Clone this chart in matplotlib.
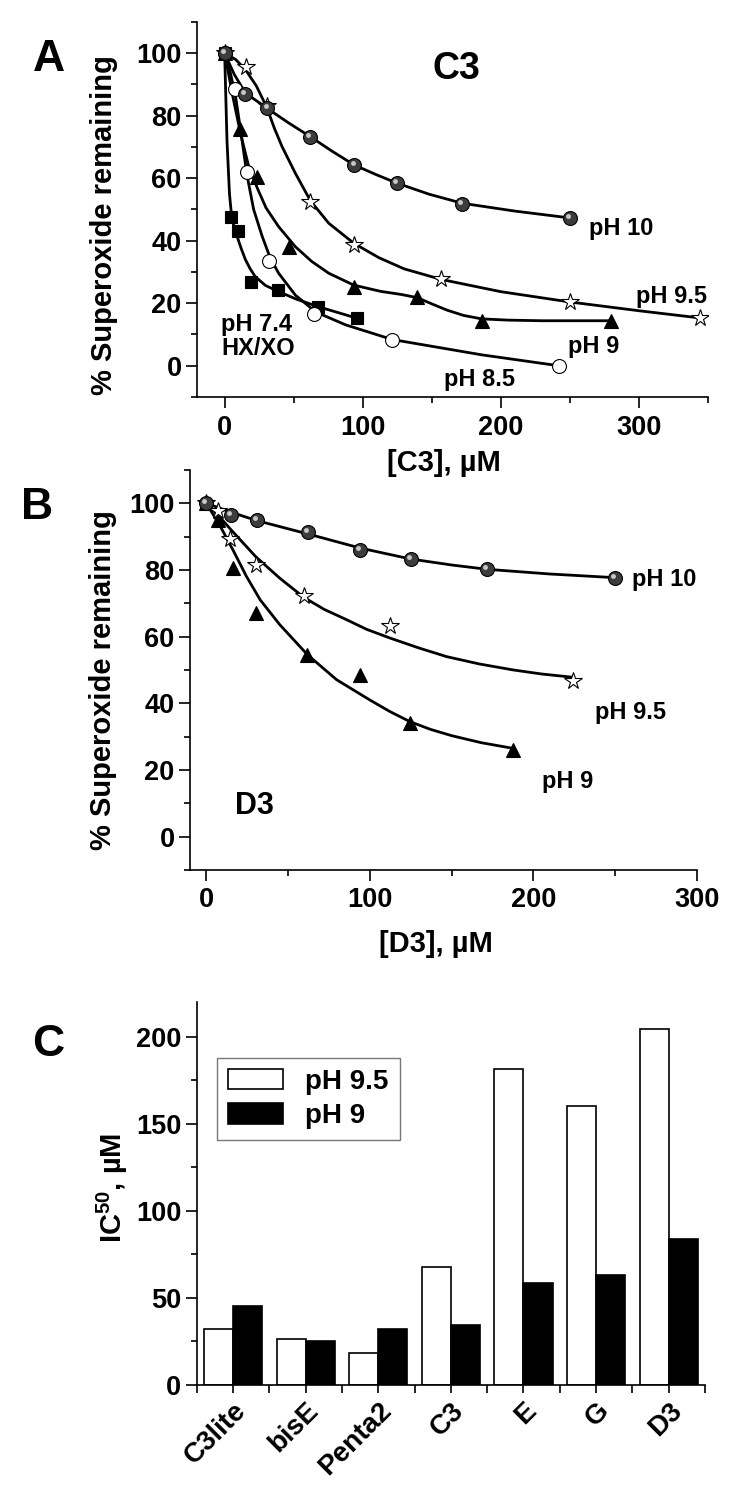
import numpy as np
import matplotlib
matplotlib.use("Agg")
import matplotlib.pyplot as plt
from matplotlib.transforms import offset_copy

plt.rcParams['font.family'] = ['Liberation Sans', 'DejaVu Sans']
plt.rcParams['font.weight'] = 'bold'
plt.rcParams['mathtext.fontset'] = 'custom'
plt.rcParams['mathtext.rm'] = 'Liberation Sans:bold'
plt.rcParams['mathtext.bf'] = 'Liberation Sans:bold'
plt.rcParams['mathtext.default'] = 'bf'

# ---- panel A : C3 ----
a10_x = [0, 15, 31, 62, 94, 125, 172, 250]
a10_y = [100, 87, 82.5, 73.3, 64.2, 58.4, 51.8, 47.3]
a10_cx = [0, 7, 15, 31, 46, 62, 78, 94, 110, 125, 148, 172, 210, 250]
a10_cy = [100, 93.2, 87.3, 82.3, 77.8, 73.3, 68.6, 64.2, 61.1, 58.4, 54.9, 52, 49.5, 47.3]

a95_x = [0, 15.5, 31, 62, 93.5, 157, 250, 344]
a95_y = [100, 95.6, 83, 52.3, 38.7, 27.8, 20.4, 15.3]
a95_cx = [0, 8, 15.5, 23, 30.7, 36, 41.6, 51.2, 62.1, 75.4, 93.5, 111.6, 130, 157, 200, 250, 300, 344]
a95_cy = [100, 98, 94.5, 89.5, 82.5, 76, 70.1, 61.6, 52.8, 45.6, 39.2, 34.6, 31, 27.6, 23.7, 20.4, 17.6, 15.3]

a9_x = [0, 11.4, 23.5, 46.4, 93.5, 139.4, 186, 280]
a9_y = [100, 75.6, 60.5, 38.1, 25.3, 22.1, 14.4, 14.4]
a9_cx = [0, 6, 11.4, 17, 23.5, 30, 39.1, 51.2, 63, 75.4, 93.5, 113, 128, 139.4, 150, 161, 173, 186, 205, 230, 280]
a9_cy = [100, 86, 74.5, 64.5, 57, 50.5, 44.5, 38.1, 33.4, 29.6, 25.8, 23.8, 22.8, 21.8, 19.8, 17.8, 16.1, 15, 14.6, 14.4, 14.4]

a85_x = [0, 7.8, 16.2, 31.9, 64.5, 121.3, 242]
a85_y = [100, 88.7, 62.1, 33.6, 16.5, 8.2, 0]
a85_cx = [0, 4, 7.8, 12, 16.2, 21, 27.1, 33, 39.1, 51.2, 66, 87.5, 121.3, 186, 242]
a85_cy = [100, 94, 86.5, 74, 61, 50, 41.5, 34.5, 29.6, 22.6, 17.2, 13.1, 8.4, 3.5, 0]

a74_x = [0, 4.9, 9.7, 19.3, 38.7, 67.7, 95.9]
a74_y = [100, 47.7, 43.2, 26.7, 24.3, 18.9, 15.2]
a74_cx = [0, 1.7, 3.5, 4.9, 7, 9.7, 12, 15, 18.5, 22.2, 29.5, 38.7, 52, 67.7, 95.9]
a74_cy = [100, 72, 55, 48.5, 44, 40.5, 37.5, 34, 31, 28.5, 25.7, 23.8, 21.3, 18.9, 15.2]

# ---- panel B : D3 ----
b10_x = [0, 15.3, 31, 62.2, 93.9, 124.9, 171.8, 250]
b10_y = [100, 96.6, 95.1, 91.4, 86.1, 83.3, 80.3, 77.7]
b10_cx = [0, 15.3, 31, 62.2, 93.9, 124.9, 150, 171.8, 210, 250]
b10_cy = [100, 97.3, 94.8, 90.8, 86.6, 83.3, 81.5, 80.2, 78.8, 77.7]

b95_x = [0, 7.1, 14.3, 30.2, 59.6, 112.2, 224.5]
b95_y = [100, 97.6, 89.3, 81.4, 72.1, 63.3, 46.8]
b95_cx = [0, 7.1, 14.3, 30.2, 45, 59.6, 72, 85.7, 98, 112.2, 130, 147, 167, 187.8, 205, 224.5]
b95_cy = [100, 96.5, 92.5, 84, 77.5, 71.8, 68.2, 65.1, 62.2, 59.6, 56.6, 54, 51.8, 50, 48.8, 47.8]

b9_x = [0, 7.1, 16.3, 30.6, 61.8, 93.9, 124.5, 187.4]
b9_y = [100, 95.1, 80.6, 67.1, 54.6, 48.6, 34, 26]
b9_cx = [0, 8.1, 16.3, 24.5, 33, 44.9, 61.8, 79.6, 100, 112, 124.5, 137, 150, 168, 187.4]
b9_cy = [100, 93.5, 86, 78.1, 71, 63.6, 54.6, 47.1, 41, 37.6, 34.5, 32.2, 30.3, 28.2, 26.5]

# ---- panel C : IC50 ----
compounds = ['C3lite', 'bisE', 'Penta2', 'C3', 'E', 'G', 'D3']
ic50_95 = [32, 26.6, 18.5, 67.9, 181.2, 160, 204.5]
ic50_9 = [45.2, 25.4, 32.3, 34.3, 58.4, 63, 83.6]

fig = plt.figure(figsize=(7.5, 14.9), dpi=100)
axA = fig.add_axes([0.2627, 0.73356, 0.6813, 0.25168])
axB = fig.add_axes([0.2533, 0.41611, 0.676, 0.26846])
axC = fig.add_axes([0.2623, 0.07047, 0.6777, 0.25718])
for ax in (axA, axB, axC):
    ax.patch.set_visible(False)

TICK_FS = 19.5
LAB_FS = 21
PH_FS = 17


def style(ax):
    for s in ['top', 'right']:
        ax.spines[s].set_visible(False)
    for s in ['left', 'bottom']:
        ax.spines[s].set_linewidth(1.2)
    ax.tick_params(which='major', direction='out', length=8, width=1.2,
                   labelsize=TICK_FS, pad=3)
    ax.tick_params(which='minor', direction='out', length=4, width=1.2)
    for lab in ax.get_xticklabels() + ax.get_yticklabels():
        lab.set_fontweight('bold')


def balls(ax, x, y, cx, cy):
    ax.plot(cx, cy, '-', color='black', lw=2, zorder=2, solid_joinstyle='round')
    ax.plot(x, y, 'o', ms=10, mfc='#3c3c3c', mec='black', mew=0.8, zorder=5)
    hl = offset_copy(ax.transData, fig=fig, x=-1.4, y=1.4, units='points')
    ax.plot(x, y, 'o', ms=3.5, mfc='#c8c8c8', mec='none', transform=hl, zorder=6)


def series(ax, x, y, cx, cy, marker, ms, face, z=3):
    ax.plot(cx, cy, '-', color='black', lw=2, zorder=2, solid_joinstyle='round')
    ax.plot(x, y, marker, ms=ms, mfc=face, mec='black', mew=0.8, zorder=z)


# panel A
series(axA, a74_x, a74_y, a74_cx, a74_cy, 's', 8.5, 'black')
series(axA, a85_x, a85_y, a85_cx, a85_cy, 'o', 10, 'white')
series(axA, a9_x, a9_y, a9_cx, a9_cy, '^', 10.5, 'black')
series(axA, a95_x, a95_y, a95_cx, a95_cy, '*', 13, 'white', z=3)
balls(axA, a10_x, a10_y, a10_cx, a10_cy)
axA.set_xlim(-20, 350)
axA.set_ylim(-10, 110)
axA.set_xticks([0, 100, 200, 300])
axA.set_xticks([50, 150, 250, 350], minor=True)
axA.set_yticks([0, 20, 40, 60, 80, 100])
axA.set_yticks([-10, 10, 30, 50, 70, 90, 110], minor=True)
style(axA)
axA.tick_params(axis='x', which='major', pad=5)
axA.set_xlabel('[C3], µM', fontsize=LAB_FS, fontweight='bold', va='center')
axA.xaxis.set_label_coords(0.483, -0.176)
axA.set_ylabel('% Superoxide remaining', fontsize=LAB_FS, fontweight='bold', va='center')
axA.yaxis.set_label_coords(-0.182, 0.459)
axA.text(168, 95, 'C3', fontsize=27, fontweight='bold', ha='center', va='center')
axA.text(264, 44, 'pH 10', fontsize=PH_FS, fontweight='bold', va='center')
axA.text(298, 22.2, 'pH 9.5', fontsize=PH_FS, fontweight='bold', va='center')
axA.text(248.5, 6.2, 'pH 9', fontsize=PH_FS, fontweight='bold', va='center')
axA.text(159, -4.5, 'pH 8.5', fontsize=PH_FS, fontweight='bold', va='center')
axA.text(-2.6, 9.4, 'pH 7.4\nHX/XO', fontsize=PH_FS, fontweight='bold',
         va='center', linespacing=1.05)

# panel B
series(axB, b9_x, b9_y, b9_cx, b9_cy, '^', 10.5, 'black')
series(axB, b95_x, b95_y, b95_cx, b95_cy, '*', 13, 'white')
balls(axB, b10_x, b10_y, b10_cx, b10_cy)
axB.set_xlim(-10, 300)
axB.set_ylim(-10, 110)
axB.set_xticks([0, 100, 200, 300])
axB.set_xticks([50, 150, 250], minor=True)
axB.set_yticks([0, 20, 40, 60, 80, 100])
axB.set_yticks([-10, 10, 30, 50, 70, 90, 110], minor=True)
style(axB)
axB.tick_params(axis='x', which='major', pad=4)
axB.set_xlabel('[D3], µM', fontsize=LAB_FS, fontweight='bold', va='center')
axB.xaxis.set_label_coords(0.485, -0.185)
axB.set_ylabel('% Superoxide remaining', fontsize=LAB_FS, fontweight='bold', va='center')
axB.yaxis.set_label_coords(-0.172, 0.475)
axB.text(17.3, 9.2, 'D3', fontsize=22, fontweight='bold', va='center')
axB.text(260, 77, 'pH 10', fontsize=PH_FS, fontweight='bold', va='center')
axB.text(237.8, 37.3, 'pH 9.5', fontsize=PH_FS, fontweight='bold', va='center')
axB.text(205, 16.5, 'pH 9', fontsize=PH_FS, fontweight='bold', va='center')

# panel C
pos = np.arange(1, len(compounds) + 1)
axC.bar(pos - 0.2, ic50_95, width=0.4, color='white', edgecolor='black', lw=1.2,
        label='pH 9.5')
axC.bar(pos + 0.2, ic50_9, width=0.4, color='black', edgecolor='black', lw=1.2,
        label='pH 9')
axC.set_xlim(0.5, 7.5)
axC.set_ylim(0, 220)
axC.set_xticks(pos)
axC.set_xticklabels(compounds)
axC.set_xticks(np.arange(0.5, 8, 1), minor=True)
axC.set_yticks([0, 50, 100, 150, 200])
axC.set_yticks([25, 75, 125, 175], minor=True)
style(axC)
axC.tick_params(axis='x', which='both', length=6)
for lab in axC.get_xticklabels():
    lab.set_rotation(45)
    lab.set_ha('right')
    lab.set_rotation_mode('anchor')
    lab.set_fontsize(20)
axC.set_ylabel('IC$^{50}$, µM', fontsize=LAB_FS, fontweight='bold', va='center')
axC.yaxis.set_label_coords(-0.165, 0.514)
leg = axC.legend(loc='upper left', bbox_to_anchor=(0.039, 0.854), borderaxespad=0,
                 fancybox=False, edgecolor='#555555', fontsize=20,
                 handlelength=2.0, handleheight=0.75, handletextpad=0.8,
                 borderpad=0.4, labelspacing=0.3)
leg.get_frame().set_linewidth(1.0)
for t in leg.get_texts():
    t.set_fontweight('bold')

fig.text(0.0653, 0.9604, 'A', fontsize=32, fontweight='bold', ha='center', va='center')
fig.text(0.0493, 0.6597, 'B', fontsize=32, fontweight='bold', ha='center', va='center')
fig.text(0.064, 0.2987, 'C', fontsize=32, fontweight='bold', ha='center', va='center')

fig.savefig('out.png', dpi=100)
